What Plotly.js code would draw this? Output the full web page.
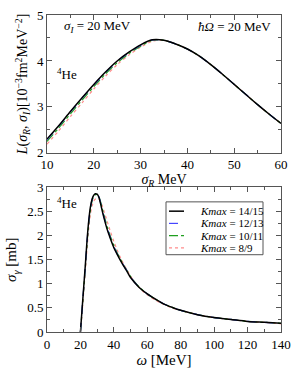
<!DOCTYPE html>
<html>
<head>
<meta charset="utf-8">
<script src="https://cdn.plot.ly/plotly-3.0.1.min.js"></script>
<style>html,body{margin:0;padding:0;background:#fff;}#chart{width:297px;height:370px;}</style>
</head>
<body>
<div id="chart"></div>
<script>
// ---- Top panel: L(sigma_R, sigma_I) ----
const sigmaR = [10,12.5,15,17.5,20,22.5,25,27.5,30,32.5,35,37.5,40,42.5,45,47.5,50,52.5,55,57.5,60];
const L_k15 = [2.30,2.59,2.90,3.20,3.49,3.76,4.00,4.19,4.35,4.46,4.45,4.37,4.26,4.11,3.92,3.71,3.49,3.27,3.05,2.84,2.64];
const L_k13 = [2.29,2.58,2.89,3.19,3.48,3.75,3.99,4.18,4.34,4.46,4.45,4.37,4.26,4.11,3.92,3.71,3.49,3.27,3.05,2.84,2.64];
const L_k11 = [2.25,2.54,2.85,3.15,3.44,3.72,3.96,4.16,4.32,4.45,4.45,4.37,4.26,4.11,3.92,3.71,3.49,3.27,3.05,2.84,2.64];
const L_k9  = [2.19,2.48,2.79,3.09,3.39,3.67,3.92,4.13,4.30,4.43,4.45,4.37,4.26,4.11,3.92,3.71,3.49,3.27,3.05,2.84,2.64];

// ---- Bottom panel: sigma_gamma(omega) ----
const omega = [20,21,22,23,24,25,26,27,28,29,30,31,32,33,34,35,36,37,38,40,42,44,46,48,50,55,60,65,70,75,80,90,100,110,120,130,140];
const S_k15 = [0,0.48,0.95,1.42,1.92,2.32,2.60,2.76,2.84,2.87,2.86,2.80,2.67,2.52,2.38,2.25,2.13,2.03,1.93,1.75,1.61,1.48,1.36,1.25,1.13,0.93,0.79,0.68,0.58,0.51,0.45,0.36,0.30,0.26,0.22,0.20,0.18];
const S_k13 = [0,0.47,0.94,1.40,1.90,2.30,2.58,2.75,2.84,2.87,2.86,2.81,2.69,2.54,2.40,2.27,2.15,2.05,1.95,1.77,1.62,1.49,1.37,1.26,1.14,0.93,0.79,0.68,0.58,0.51,0.45,0.36,0.30,0.26,0.22,0.20,0.18];
const S_k11 = [0,0.45,0.91,1.37,1.85,2.25,2.54,2.72,2.82,2.85,2.85,2.81,2.71,2.57,2.44,2.31,2.19,2.08,1.98,1.80,1.64,1.51,1.38,1.27,1.15,0.94,0.79,0.68,0.58,0.51,0.45,0.36,0.30,0.26,0.22,0.20,0.18];
const S_k9  = [0,0.40,0.85,1.30,1.75,2.15,2.45,2.62,2.72,2.76,2.77,2.76,2.71,2.62,2.52,2.41,2.30,2.19,2.08,1.88,1.70,1.54,1.40,1.28,1.16,0.93,0.77,0.66,0.57,0.50,0.45,0.36,0.30,0.26,0.22,0.20,0.17];

const labels = ['<i>Kmax</i> = 14/15','<i>Kmax</i> = 12/13','<i>Kmax</i> = 10/11','<i>Kmax</i> = 8/9'];
const colors = ['#000000','#4646ff','#1f9f1f','#ff8c8c'];
const dashes = ['solid','dash','dashdot','dot'];
const widths = [1.5,1.2,1.2,1.2];

const Lser = [L_k15,L_k13,L_k11,L_k9];
const Sser = [S_k15,S_k13,S_k11,S_k9];

const traces = [];
for (let i = 3; i >= 0; i--) {
  traces.push({x: sigmaR, y: Lser[i], xaxis:'x', yaxis:'y', mode:'lines', name: labels[i], showlegend:false,
    line:{color:colors[i], dash:dashes[i], width:widths[i], shape:'spline', smoothing:0.8}});
}
for (let i = 3; i >= 0; i--) {
  traces.push({x: omega, y: Sser[i], xaxis:'x2', yaxis:'y2', mode:'lines', name: labels[i], showlegend:false,
    line:{color:colors[i], dash:dashes[i], width:widths[i], shape:'spline', smoothing:0.8}});
}

const FONT = 'Liberation Serif';
const axBase = {showline:true, linecolor:'#555', linewidth:1, mirror:'allticks', ticks:'inside', ticklen:5, tickcolor:'#555',
  showgrid:false, zeroline:false, tickfont:{family:FONT, size:13, color:'#000'}};

const shapes = [];
const annotations = [];
const W = 297, H = 370, ML = 47, MR = 16, MT = 8, MB = 38;
const pw = W - ML - MR, ph = H - MT - MB;
const px = v => (v - ML) / pw;
const py = v => 1 - (v - MT) / ph;
shapes.push({type:'rect', xref:'paper', yref:'paper', x0:px(166), x1:px(263), y0:py(199), y1:py(253), line:{color:'#555', width:1}, fillcolor:'rgba(0,0,0,0)'});
const rows = [208.5, 221, 233.5, 246];
for (let i = 0; i < 4; i++) {
  shapes.push({type:'line', xref:'paper', yref:'paper', x0:px(169), x1:px(184), y0:py(rows[i]), y1:py(rows[i]),
    line:{color:colors[i], dash:dashes[i], width:widths[i]}});
  annotations.push({xref:'paper', yref:'paper', x:px(198), y:py(rows[i]), xanchor:'left', yanchor:'middle', showarrow:false,
    text: labels[i], font:{family:FONT, size:11, color:'#000'}});
}
annotations.push({xref:'paper', yref:'paper', x:px(62), y:py(20), xanchor:'left', yanchor:'middle', showarrow:false,
  text:'<i>σ<sub>I</sub></i> = 20 MeV', font:{family:FONT, size:13, color:'#000'}});
annotations.push({xref:'paper', yref:'paper', x:px(273), y:py(20), xanchor:'right', yanchor:'middle', showarrow:false,
  text:'<i>ħΩ</i> = 20 MeV', font:{family:FONT, size:13, color:'#000'}});
annotations.push({xref:'paper', yref:'paper', x:px(55), y:py(68), xanchor:'left', yanchor:'middle', showarrow:false,
  text:'<sup>4</sup>He', font:{family:FONT, size:13, color:'#000'}});
annotations.push({xref:'paper', yref:'paper', x:px(55), y:py(200), xanchor:'left', yanchor:'middle', showarrow:false,
  text:'<sup>4</sup>He', font:{family:FONT, size:13, color:'#000'}});

const layout = {
  width: W, height: H,
  margin:{l:ML, r:MR, t:MT, b:MB, pad:0},
  paper_bgcolor:'#fff', plot_bgcolor:'#fff',
  font:{family:FONT, size:13, color:'#000'},
  showlegend:false,
  xaxis: Object.assign({}, axBase, {domain:[0,1], anchor:'y', range:[10,60], tickvals:[10,20,30,40,50,60],
    minor:{dtick:5, tick0:0, ticks:'inside', ticklen:3, tickcolor:'#555'},
    title:{text:'<i>σ<sub>R</sub></i> MeV', font:{family:FONT, size:14, color:'#000'}, standoff:0}}),
  yaxis: Object.assign({}, axBase, {domain:[0.565,1], anchor:'x', range:[2,5], tickvals:[2,3,4,5],
    minor:{dtick:0.5, tick0:0, ticks:'inside', ticklen:3, tickcolor:'#555'}, automargin:true,
    title:{text:'<i>L</i>(<i>σ<sub>R</sub></i>, <i>σ<sub>I</sub></i>)[10<sup>−3</sup>fm<sup>2</sup>MeV<sup>−2</sup>]', font:{family:FONT, size:14, color:'#000'}, standoff:5}}),
  xaxis2: Object.assign({}, axBase, {domain:[0,1], anchor:'y2', range:[0,140], tickvals:[0,20,40,60,80,100,120,140],
    minor:{dtick:10, tick0:0, ticks:'inside', ticklen:3, tickcolor:'#555'},
    title:{text:'<i>ω</i> [MeV]', font:{family:FONT, size:15, color:'#000'}, standoff:0}}),
  yaxis2: Object.assign({}, axBase, {domain:[0,0.456], anchor:'x2', range:[0,3], tickvals:[0,0.5,1,1.5,2,2.5,3],
    minor:{dtick:0.25, tick0:0, ticks:'inside', ticklen:3, tickcolor:'#555'}, automargin:true,
    title:{text:'<i>σ<sub>γ</sub></i> [mb]', font:{family:FONT, size:15, color:'#000'}, standoff:6}}),
  shapes: shapes,
  annotations: annotations
};

Plotly.newPlot('chart', traces, layout, {displayModeBar:false});
</script>
</body>
</html>
